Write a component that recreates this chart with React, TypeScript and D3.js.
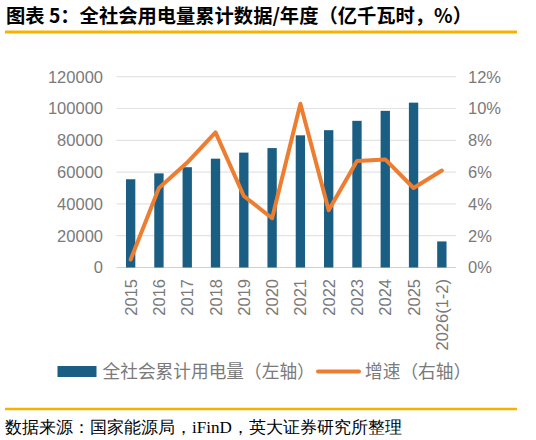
import React from "react";
import * as d3 from "d3";

const categories = ["2015","2016","2017","2018","2019","2020","2021","2022","2023","2024","2025","2026(1-2)"];
const consumption = [55500, 59198, 63077, 68449, 72255, 75110, 83128, 86372, 92241, 98521, 103682, 16400];
const growth = [0.5, 5.0, 6.6, 8.5, 4.5, 3.1, 10.3, 3.6, 6.7, 6.8, 5.0, 6.1];
const leftTicks = [0, 20000, 40000, 60000, 80000, 100000, 120000];
const rightTicks = [0, 2, 4, 6, 8, 10, 12];

const W = 536, H = 440;
const plotL = 116.5, plotR = 456, plotT = 76.7, plotB = 267.5;
const BAR = "#1B5E83";
const LINE = "#ED7D31";
const GOLD = "#F5B300";
const SANS = "'Liberation Sans', Arial, sans-serif";
const CJK = "'Noto Sans CJK SC', sans-serif";

export default function App() {
  const x = d3.scaleBand<string>().domain(categories).range([plotL, plotR]).padding(0);
  const yL = d3.scaleLinear().domain([0, 120000]).range([plotB, plotT]);
  const yR = d3.scaleLinear().domain([0, 12]).range([plotB, plotT]);
  const bw = x.step() * 0.33;
  const cx = (c: string) => (x(c) as number) + x.step() / 2;
  const line = d3.line<number>().x((_, i) => cx(categories[i])).y(d => yR(d));

  return (
    <svg width={W} height={H} style={{ position: "absolute", left: 0, top: 0, background: "#fff" }}>
      <text x={6} y={23} fontFamily={CJK} fontWeight={700} fontSize={19.3} fill="#000">图表 5：全社会用电量累计数据/年度（亿千瓦时，%）</text>
      <line x1={5} x2={517} y1={32} y2={32} stroke={GOLD} strokeWidth={3} />

      {leftTicks.map(t => (
        <line key={"g" + t} x1={plotL} x2={plotR} y1={yL(t)} y2={yL(t)} stroke={t === 0 ? "#D0D0D0" : "#E3E3E3"} strokeWidth={1.2} />
      ))}
      {leftTicks.map(t => (
        <text key={"l" + t} x={103} y={yL(t)} dy="0.36em" textAnchor="end" fontFamily={SANS} fontSize={16.5} fill="#7A7A7A">{t}</text>
      ))}
      {rightTicks.map(t => (
        <text key={"r" + t} x={468} y={yR(t)} dy="0.36em" textAnchor="start" fontFamily={SANS} fontSize={16.5} fill="#7A7A7A">{t + "%"}</text>
      ))}

      {consumption.map((v, i) => (
        <rect key={"b" + i} x={cx(categories[i]) - bw / 2} y={yL(v)} width={bw} height={plotB - yL(v)} fill={BAR} />
      ))}
      <path d={line(growth) || ""} fill="none" stroke={LINE} strokeWidth={4} strokeLinejoin="round" strokeLinecap="round" />

      {categories.map(c => (
        <text key={"x" + c} transform={`translate(${cx(c) + 6},279) rotate(-90)`} textAnchor="end" fontFamily={SANS} fontSize={16.5} fill="#7A7A7A">{c}</text>
      ))}

      <rect x={57.5} y={366} width={39} height={11} fill={BAR} />
      <text x={102.5} y={371.5} dy="0.36em" fontFamily={CJK} fontSize={17.7} fill="#7A7A7A">全社会累计用电量（左轴）</text>
      <line x1={318} x2={359} y1={371.5} y2={371.5} stroke={LINE} strokeWidth={4} strokeLinecap="round" />
      <text x={365} y={371.5} dy="0.36em" fontFamily={CJK} fontSize={17.7} fill="#7A7A7A">增速（右轴）</text>

      <line x1={5} x2={517} y1={409} y2={409} stroke={GOLD} strokeWidth={2.5} />
      <text x={5} y={433} fontFamily="serif" fontSize={17.1} fill="#000">数据来源：国家能源局，iFinD，英大证券研究所整理</text>
    </svg>
  );
}
